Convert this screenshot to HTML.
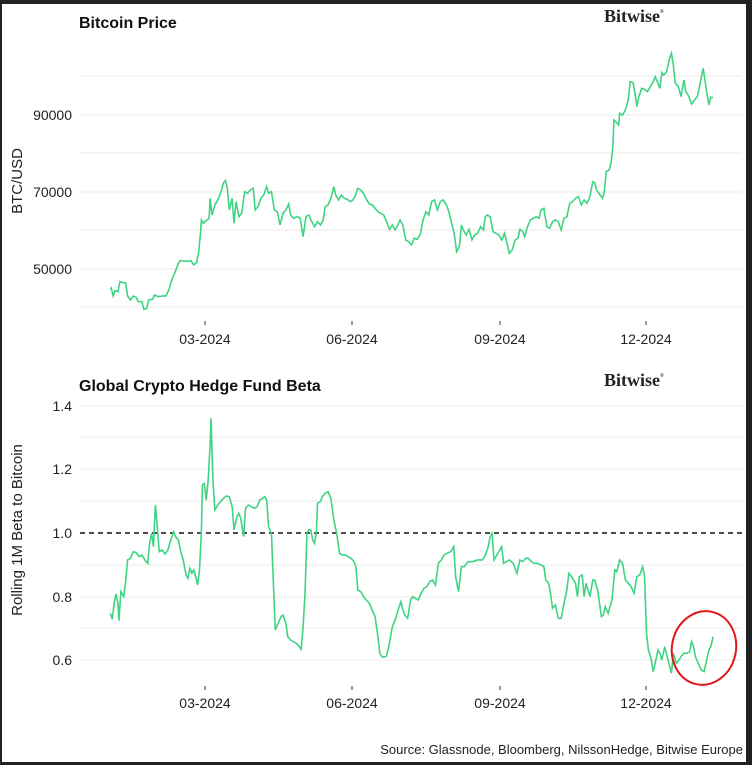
<!DOCTYPE html>
<html><head><meta charset="utf-8"><style>
html,body{margin:0;padding:0;background:#1e1e1e;}
svg{display:block;}
text{font-family:"Liberation Sans",Arial,sans-serif;}
</style></head><body>
<svg width="752" height="765" viewBox="0 0 752 765" xmlns="http://www.w3.org/2000/svg">
<rect x="0" y="0" width="752" height="765" fill="#222"/>
<rect x="2" y="4" width="744" height="758" fill="#fff"/>
<!-- Top chart -->
<g stroke="#ebebeb" stroke-width="1">
<line x1="80" x2="742" y1="76" y2="76"/><line x1="80" x2="742" y1="115" y2="115"/><line x1="80" x2="742" y1="153" y2="153"/><line x1="80" x2="742" y1="192" y2="192"/><line x1="80" x2="742" y1="230" y2="230"/><line x1="80" x2="742" y1="269" y2="269"/><line x1="80" x2="742" y1="307" y2="307"/>
</g>
<text x="79" y="28" font-size="16" font-weight="bold" fill="#111">Bitcoin Price</text>
<text x="604" y="22" font-size="18" font-weight="bold" style="font-family:'Liberation Serif',serif" fill="#222">Bitwise<tspan font-size="5" dy="-9">®</tspan></text>
<g font-size="14" fill="#222" text-anchor="end">
<text x="72" y="120">90000</text><text x="72" y="197">70000</text><text x="72" y="274">50000</text>
</g>
<text transform="translate(22,181) rotate(-90)" font-size="15" fill="#222" text-anchor="middle">BTC/USD</text>
<g stroke="#333" stroke-width="1"><line x1="205" x2="205" y1="321" y2="325"/><line x1="352" x2="352" y1="321" y2="325"/><line x1="500" x2="500" y1="321" y2="325"/><line x1="646" x2="646" y1="321" y2="325"/></g>
<g font-size="14" fill="#222" text-anchor="middle"><text x="205" y="344">03-2024</text><text x="352" y="344">06-2024</text><text x="500" y="344">09-2024</text><text x="646" y="344">12-2024</text></g>
<g transform="scale(0.4796,0.3333)">
<polyline fill="none" stroke="#3fd483" stroke-width="1.6" vector-effect="non-scaling-stroke" points="230,868 232,864 236,888 240,872 246,875 250,845 256,848 262,848 266,888 272,900 278,888 284,892 288,905 296,905 300,928 306,926 310,900 318,898 322,885 330,890 340,888 346,888 352,870 358,840 364,820 372,790 376,782 382,783 392,784 398,782 404,795 410,788 414,760 418,700 420,660 424,670 430,662 436,655 438,595 442,645 448,615 456,595 462,570 466,548 470,542 474,565 478,630 484,595 488,670 492,605 498,650 504,640 510,575 516,580 522,570 528,565 532,630 538,620 544,595 550,585 556,560 560,580 566,575 572,630 578,635 584,675 590,640 596,630 602,612 606,645 612,655 620,650 626,655 632,710 638,650 644,645 650,665 656,680 662,665 668,675 674,660 678,620 684,615 690,595 696,560 700,585 706,600 712,585 718,595 724,598 730,605 736,600 740,590 746,565 752,570 758,580 764,598 770,612 776,615 782,625 788,635 794,640 800,645 806,665 812,688 818,675 824,690 828,680 834,660 840,675 846,720 852,725 858,735 864,715 870,718 876,705 882,660 888,635 894,645 900,605 906,600 912,630 918,605 924,600 930,612 936,635 940,660 944,682 948,710 952,755 958,740 962,675 966,690 972,705 978,688 984,720 990,705 996,700 1002,680 1008,690 1012,650 1016,645 1022,650 1028,695 1034,700 1040,705 1046,720 1052,700 1058,735 1062,760 1068,750 1074,720 1080,715 1084,688 1090,695 1094,710 1100,680 1106,660 1112,655 1118,650 1124,655 1128,630 1134,625 1140,680 1146,685 1152,665 1158,660 1164,665 1170,690 1176,655 1182,650 1188,610 1194,605 1200,595 1206,590 1212,615 1218,600 1224,610 1230,590 1236,545 1240,548 1244,570 1250,582 1256,595 1260,575 1264,515 1270,510 1274,490 1278,440 1280,360 1284,365 1290,375 1292,340 1298,345 1304,330 1310,300 1314,245 1320,248 1324,280 1328,320 1332,290 1338,265 1344,268 1350,275 1356,260 1362,245 1366,230 1372,250 1376,265 1380,218 1384,225 1390,215 1396,175 1400,160 1404,195 1408,250 1414,258 1420,290 1426,240 1430,275 1436,288 1442,312 1448,300 1454,290 1460,250 1466,205 1470,240 1474,280 1478,315 1482,292 1487,293"/>
</g>
<!-- Bottom chart -->
<g stroke="#ebebeb" stroke-width="1">
<line x1="80" x2="742" y1="406" y2="406"/><line x1="80" x2="742" y1="437" y2="437"/><line x1="80" x2="742" y1="469" y2="469"/><line x1="80" x2="742" y1="501" y2="501"/><line x1="80" x2="742" y1="565" y2="565"/><line x1="80" x2="742" y1="597" y2="597"/><line x1="80" x2="742" y1="628" y2="628"/><line x1="80" x2="742" y1="660" y2="660"/>
</g>
<line x1="80" x2="742" y1="533" y2="533" stroke="#111" stroke-width="1.5" stroke-dasharray="5,4"/>
<text x="79" y="391" font-size="16" font-weight="bold" fill="#111">Global Crypto Hedge Fund Beta</text>
<text x="604" y="386" font-size="18" font-weight="bold" style="font-family:'Liberation Serif',serif" fill="#222">Bitwise<tspan font-size="5" dy="-9">®</tspan></text>
<g font-size="14" fill="#222" text-anchor="end">
<text x="72" y="411">1.4</text><text x="72" y="474">1.2</text><text x="72" y="538">1.0</text><text x="72" y="602">0.8</text><text x="72" y="665">0.6</text>
</g>
<text transform="translate(22,530) rotate(-90)" font-size="15" fill="#222" text-anchor="middle">Rolling 1M Beta to Bitcoin</text>
<g stroke="#333" stroke-width="1"><line x1="205" x2="205" y1="686" y2="690"/><line x1="352" x2="352" y1="686" y2="690"/><line x1="500" x2="500" y1="686" y2="690"/><line x1="646" x2="646" y1="686" y2="690"/></g>
<g font-size="14" fill="#222" text-anchor="middle"><text x="205" y="708">03-2024</text><text x="352" y="708">06-2024</text><text x="500" y="708">09-2024</text><text x="646" y="708">12-2024</text></g>
<g transform="translate(0,370) scale(0.4796,0.3333)">
<polyline fill="none" stroke="#3fd483" stroke-width="1.6" vector-effect="non-scaling-stroke" points="230,730 234,748 238,700 242,672 246,700 248,752 252,665 258,680 262,635 266,570 272,565 278,545 284,548 290,560 296,555 302,570 308,580 312,520 316,490 320,530 324,405 328,470 332,545 338,540 344,552 350,540 356,510 362,485 366,500 372,510 376,540 382,570 388,615 392,625 396,595 400,610 404,600 408,620 412,645 416,600 420,480 422,345 426,340 430,390 434,330 438,230 440,145 444,330 448,420 454,405 460,395 466,385 472,378 478,380 484,410 488,480 494,440 498,430 502,445 508,500 512,415 518,405 524,410 530,415 536,410 542,390 548,385 552,380 556,390 560,470 566,490 570,640 574,780 580,760 586,740 590,735 596,760 600,800 606,810 612,815 618,820 624,830 628,838 632,770 636,670 640,490 644,480 648,480 652,510 656,520 660,480 662,400 668,395 672,380 678,370 684,365 690,385 696,450 702,490 708,550 714,555 720,555 726,560 732,565 738,575 742,590 746,660 752,665 758,680 764,690 770,700 776,720 782,740 788,800 792,850 796,860 800,862 806,858 812,820 818,770 824,750 830,720 836,695 840,720 844,735 850,745 856,690 860,680 866,685 872,690 878,670 884,655 890,650 896,635 902,630 908,645 914,580 920,570 926,555 932,550 940,545 946,530 950,620 956,665 962,590 968,590 976,575 986,575 996,570 1006,570 1012,555 1018,530 1022,500 1026,490 1030,570 1036,555 1042,540 1046,530 1050,580 1056,575 1062,570 1070,580 1078,610 1084,570 1090,575 1096,565 1102,565 1108,575 1114,580 1120,580 1128,585 1134,590 1138,630 1144,640 1148,670 1152,715 1158,705 1164,745 1170,745 1176,700 1182,660 1186,610 1192,620 1196,630 1200,640 1204,680 1208,620 1214,615 1218,680 1222,640 1226,660 1230,680 1236,630 1240,630 1246,660 1250,700 1254,740 1258,735 1262,710 1268,730 1276,690 1282,600 1286,605 1292,570 1298,580 1304,630 1310,640 1316,650 1322,670 1328,620 1334,615 1340,590 1344,620 1348,790 1352,840 1358,870 1362,905 1366,880 1372,840 1376,850 1380,870 1386,830 1392,865 1400,910 1404,850 1410,880 1416,870 1420,860 1426,850 1432,850 1438,845 1442,815 1446,830 1450,860 1456,880 1462,900 1468,905 1472,880 1478,840 1482,830 1487,800"/>
</g>
<ellipse cx="704" cy="648" rx="32" ry="37" fill="none" stroke="#e01818" stroke-width="2" transform="rotate(12 704 648)"/>
<text x="743" y="754" font-size="13" fill="#222" text-anchor="end">Source: Glassnode, Bloomberg, NilssonHedge, Bitwise Europe</text>
</svg>
</body></html>
